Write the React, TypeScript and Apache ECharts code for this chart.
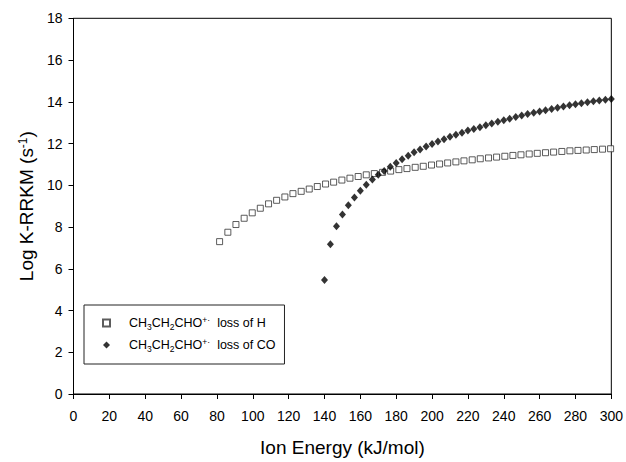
import React, { useEffect, useRef } from "react";
import * as echarts from "echarts";

// Loss of H (open squares)
const hEnergy = [
  81.5, 86.1, 90.6, 95.2, 99.7, 104.2, 108.8, 113.3, 117.9, 122.4,
  127.0, 131.5, 136.0, 140.6, 145.1, 149.7, 154.2, 158.8, 163.3, 167.8,
  172.4, 176.9, 181.5, 186.0, 190.6, 195.1, 199.7, 204.2, 208.7, 213.3,
  217.8, 222.4, 226.9, 231.5, 236.0, 240.6, 245.1, 249.6, 254.2, 258.7,
  263.3, 267.8, 272.4, 276.9, 281.4, 286.0, 290.5, 295.1, 299.6,
];
const hLogK = [
  7.30, 7.75, 8.12, 8.42, 8.68, 8.90, 9.11, 9.28, 9.44, 9.60,
  9.71, 9.82, 9.94, 10.06, 10.15, 10.25, 10.34, 10.42, 10.50, 10.56,
  10.62, 10.68, 10.75, 10.80, 10.86, 10.91, 10.97, 11.02, 11.07, 11.12,
  11.17, 11.22, 11.27, 11.31, 11.35, 11.39, 11.43, 11.46, 11.50, 11.53,
  11.56, 11.59, 11.62, 11.65, 11.67, 11.69, 11.71, 11.73, 11.75,
];

// Loss of CO (filled diamonds)
const coEnergy = [
  140.0, 143.3, 146.7, 150.0, 153.3, 156.7, 160.0, 163.3, 166.7, 170.0,
  173.3, 176.7, 180.0, 183.3, 186.7, 190.0, 193.3, 196.7, 200.0, 203.3,
  206.7, 210.0, 213.3, 216.7, 220.0, 223.3, 226.7, 230.0, 233.3, 236.7,
  240.0, 243.3, 246.7, 250.0, 253.3, 256.7, 260.0, 263.3, 266.7, 270.0,
  273.3, 276.7, 280.0, 283.3, 286.7, 290.0, 293.3, 296.7, 300.0,
];
const coLogK = [
  5.46, 7.18, 8.04, 8.60, 9.04, 9.42, 9.74, 10.02, 10.28, 10.50,
  10.69, 10.89, 11.07, 11.25, 11.42, 11.58, 11.72, 11.86, 11.98, 12.10,
  12.21, 12.32, 12.42, 12.52, 12.62, 12.70, 12.78, 12.88, 12.96, 13.04,
  13.12, 13.19, 13.27, 13.34, 13.41, 13.48, 13.54, 13.60, 13.66, 13.72,
  13.77, 13.83, 13.88, 13.93, 13.98, 14.02, 14.06, 14.10, 14.13,
];

const seriesNames = ["CH3CH2CHO+· loss of H", "CH3CH2CHO+· loss of CO"];
const legendLabels = [
  "{g|}{t|CH}{b|3}{t|CH}{b|2}{t|CHO}{p|+·}{s|}{t|loss of H}",
  "{g|}{t|CH}{b|3}{t|CH}{b|2}{t|CHO}{p|+·}{s|}{t|loss of CO}",
];

const FONT = "'Liberation Sans', Arial, sans-serif";

export default function App() {
  const ref = useRef<HTMLDivElement>(null);
  useEffect(() => {
    if (!ref.current) return;
    const chart = echarts.init(ref.current, undefined, { renderer: "svg" });
    const toPairs = (xs: number[], ys: number[]) => xs.map((x, i) => [x, ys[i]]);
    chart.setOption({
      animation: false,
      backgroundColor: "#fff",
      textStyle: { fontFamily: FONT, color: "#000" },
      grid: {
        left: 73.5,
        right: 13,
        top: 18.3,
        bottom: 65.3,
        show: true,
        borderColor: "#000",
        borderWidth: 1,
        backgroundColor: "transparent",
      },
      legend: {
        orient: "vertical",
        left: 84,
        top: 305,
        padding: [10, 9, 11, 18],
        itemGap: 6,
        itemWidth: 7,
        itemHeight: 7,
        borderColor: "#222",
        borderWidth: 1,
        backgroundColor: "#fff",
        data: seriesNames,
        formatter: (name: string) => legendLabels[seriesNames.indexOf(name)],
        textStyle: {
          fontFamily: FONT,
          color: "#000",
          rich: {
            g: { width: 14 },
            s: { width: 7 },
            t: { fontSize: 12.5, fontFamily: FONT, color: "#000", lineHeight: 16 },
            b: { fontSize: 8.5, fontFamily: FONT, color: "#000", verticalAlign: "bottom", lineHeight: 10 },
            p: { fontSize: 8.5, fontFamily: FONT, color: "#000", verticalAlign: "top", lineHeight: 10 },
          },
        },
      },
      xAxis: {
        type: "value",
        min: 0,
        max: 300,
        interval: 20,
        name: "Ion Energy (kJ/mol)",
        nameLocation: "middle",
        nameGap: 44,
        nameTextStyle: { fontSize: 19, fontFamily: FONT, color: "#000" },
        axisLine: { onZero: false, lineStyle: { color: "#000", width: 1 } },
        axisTick: { show: true, inside: false, length: 5, lineStyle: { color: "#000" } },
        axisLabel: { fontSize: 14, color: "#000", fontFamily: FONT, margin: 15 },
        splitLine: { show: false },
      },
      yAxis: {
        type: "value",
        min: 0,
        max: 18,
        interval: 2,
        name: "Log K-RRKM (s{sup|-1})",
        nameLocation: "middle",
        nameGap: 36,
        nameTextStyle: {
          fontSize: 19,
          fontFamily: FONT,
          color: "#000",
          rich: {
            sup: { fontSize: 12, fontFamily: FONT, color: "#000", verticalAlign: "top", lineHeight: 12 },
          },
        },
        axisLine: { onZero: false, lineStyle: { color: "#000", width: 1 } },
        axisTick: { show: true, inside: false, length: 5, lineStyle: { color: "#000" } },
        axisLabel: { fontSize: 14, color: "#000", fontFamily: FONT, margin: 11 },
        splitLine: { show: false },
      },
      series: [
        {
          name: seriesNames[0],
          type: "scatter",
          symbol: "rect",
          symbolSize: 6,
          itemStyle: { color: "#fff", borderColor: "#333", borderWidth: 1 },
          data: toPairs(hEnergy, hLogK),
          z: 2,
        },
        {
          name: seriesNames[1],
          type: "scatter",
          symbol: "diamond",
          symbolSize: [7, 8],
          itemStyle: { color: "#000" },
          data: toPairs(coEnergy, coLogK),
          z: 3,
        },
      ],
    });
    return () => chart.dispose();
  }, []);
  return <div ref={ref} style={{ width: 626, height: 462, position: "absolute", left: 0, top: 0 }} />;
}
